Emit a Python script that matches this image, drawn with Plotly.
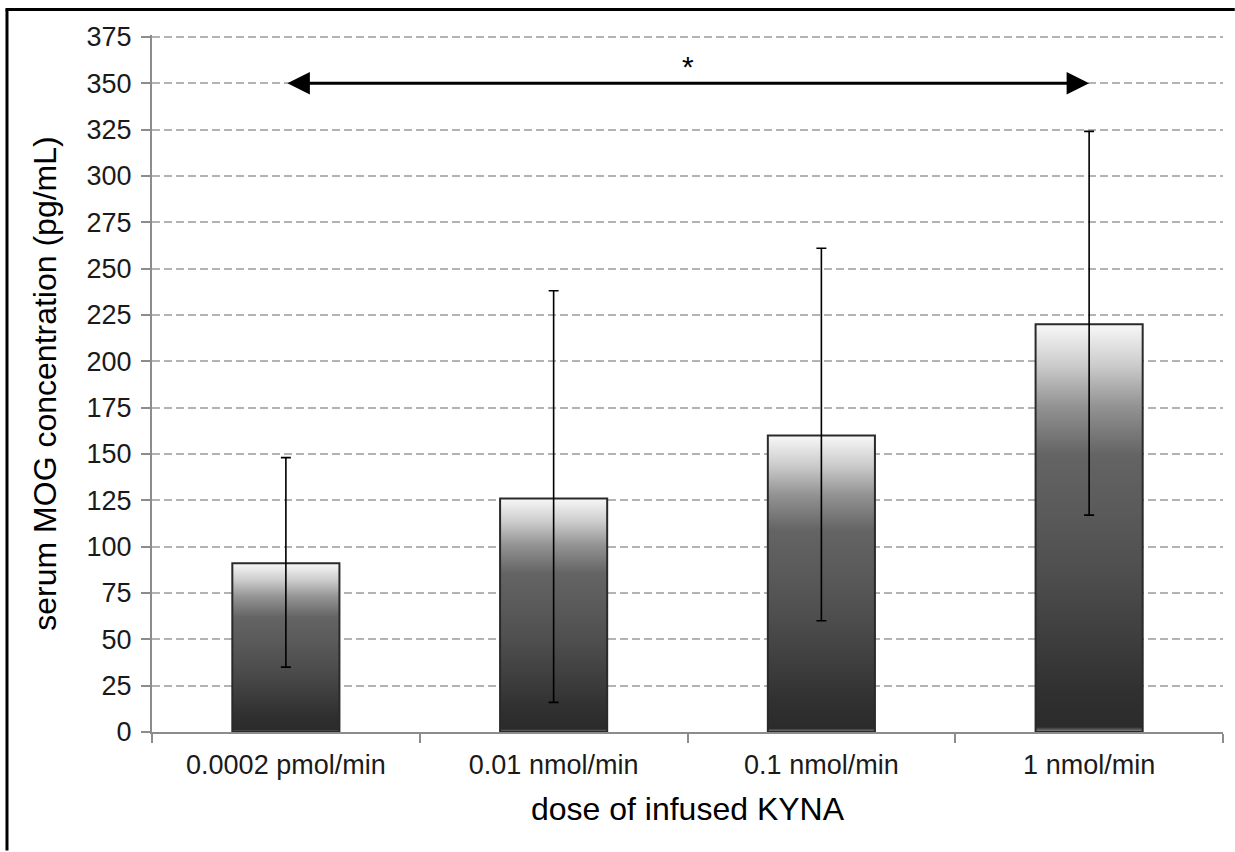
import plotly.graph_objects as go

# ---- data ----
categories = ["0.0002 pmol/min", "0.01 nmol/min", "0.1 nmol/min", "1 nmol/min"]
mog_mean = [91, 126, 160, 220]
err_plus = [57, 112, 101, 104]
err_minus = [56, 110, 100, 103]
y_ticks = [0, 25, 50, 75, 100, 125, 150, 175, 200, 225, 250, 275, 300, 325, 350, 375]
sig_pair = [0, 3]
sig_level = 350
sig_label = "*"

# ---- style ----
FONT = "Liberation Sans, Arial, sans-serif"
AXIS_GRAY = "#8c8c8c"
BAR_W = 0.40
gradient = [
    [0.0, "#8c8c8c"],
    [0.012, "#2b2b2b"],
    [0.10, "#303030"],
    [0.25, "#404040"],
    [0.40, "#4f4f4f"],
    [0.55, "#5b5b5b"],
    [0.68, "#646464"],
    [0.80, "#939393"],
    [0.90, "#cccccc"],
    [1.0, "#f8f8f8"],
]

fig = go.Figure()

idx = list(range(len(categories)))
for i, v in zip(idx, mog_mean):
    xl, xr = i - BAR_W / 2, i + BAR_W / 2
    fig.add_trace(go.Scatter(
        x=[xl, xl, xr, xr, xl],
        y=[0, v, v, 0, 0],
        mode="lines",
        fill="toself",
        fillgradient=dict(type="vertical", colorscale=gradient),
        line=dict(color="#2a2a2a", width=2),
        hoverinfo="skip",
        showlegend=False,
    ))

fig.add_trace(go.Scatter(
    x=idx,
    y=mog_mean,
    mode="markers",
    marker=dict(size=1, color="rgba(0,0,0,0)"),
    error_y=dict(type="data", symmetric=False, array=err_plus, arrayminus=err_minus,
                 color="black", thickness=1.6, width=5),
    showlegend=False,
))

# significance arrow
fig.add_annotation(
    x=sig_pair[1], y=sig_level, ax=sig_pair[0], ay=sig_level,
    xref="x", yref="y", axref="x", ayref="y",
    text="", showarrow=True,
    arrowhead=2, startarrowhead=2, arrowside="end+start",
    arrowwidth=3, arrowsize=1.5, startarrowsize=1.5,
    arrowcolor="black",
)
fig.add_annotation(
    x=(sig_pair[0] + sig_pair[1]) / 2, y=sig_level,
    xref="x", yref="y", text=sig_label, showarrow=False,
    yanchor="bottom", yshift=-2,
    font=dict(family=FONT, size=30, color="black"),
)

# outer frame (only left and top edges are visible in the cropped original)
fig.add_shape(type="line", xref="paper", yref="paper",
              x0=-0.1354, x1=-0.1354, y0=-0.17, y1=1.0366,
              line=dict(color="black", width=3))
fig.add_shape(type="line", xref="paper", yref="paper",
              x0=-0.1368, x1=1.011, y0=1.0366, y1=1.0366,
              line=dict(color="black", width=3))

fig.update_layout(
    width=1235, height=852,
    margin=dict(l=152, r=12, t=35, b=120),
    paper_bgcolor="white", plot_bgcolor="white",
    font=dict(family=FONT, color="#1a1a1a"),
    showlegend=False,
)
fig.update_xaxes(
    automargin=False,
    range=[-0.5, len(categories) - 0.5],
    tickmode="array", tickvals=idx, ticktext=categories,
    ticks="", showline=True, linecolor=AXIS_GRAY, linewidth=2,
    showgrid=False, zeroline=False,
    tickfont=dict(size=27, family=FONT, color="#1a1a1a"),
    ticklabelstandoff=8,
    minor=dict(ticks="outside", tickmode="array",
               tickvals=[i - 0.5 for i in range(len(categories) + 1)],
               ticklen=9, tickwidth=2, tickcolor=AXIS_GRAY, showgrid=False),
    title=dict(text="dose of infused KYNA", font=dict(size=32, family=FONT, color="black"),
               standoff=18),
)
fig.update_yaxes(
    automargin=False,
    range=[0, 376],
    tickmode="array", tickvals=y_ticks,
    ticks="outside", ticklen=9, tickwidth=2, tickcolor=AXIS_GRAY,
    showline=True, linecolor=AXIS_GRAY, linewidth=2,
    showgrid=True, gridcolor="#b3b3b3", gridwidth=1.5, griddash="8px,4px",
    zeroline=False,
    tickfont=dict(size=27, family=FONT, color="#1a1a1a"),
    ticklabelstandoff=4,
    title=dict(text="serum MOG concentration (pg/mL)",
               font=dict(size=32, family=FONT, color="black"), standoff=20),
)

fig.write_html("out.html", config={"displayModeBar": False},
               post_script="document.body.style.margin='0';")
